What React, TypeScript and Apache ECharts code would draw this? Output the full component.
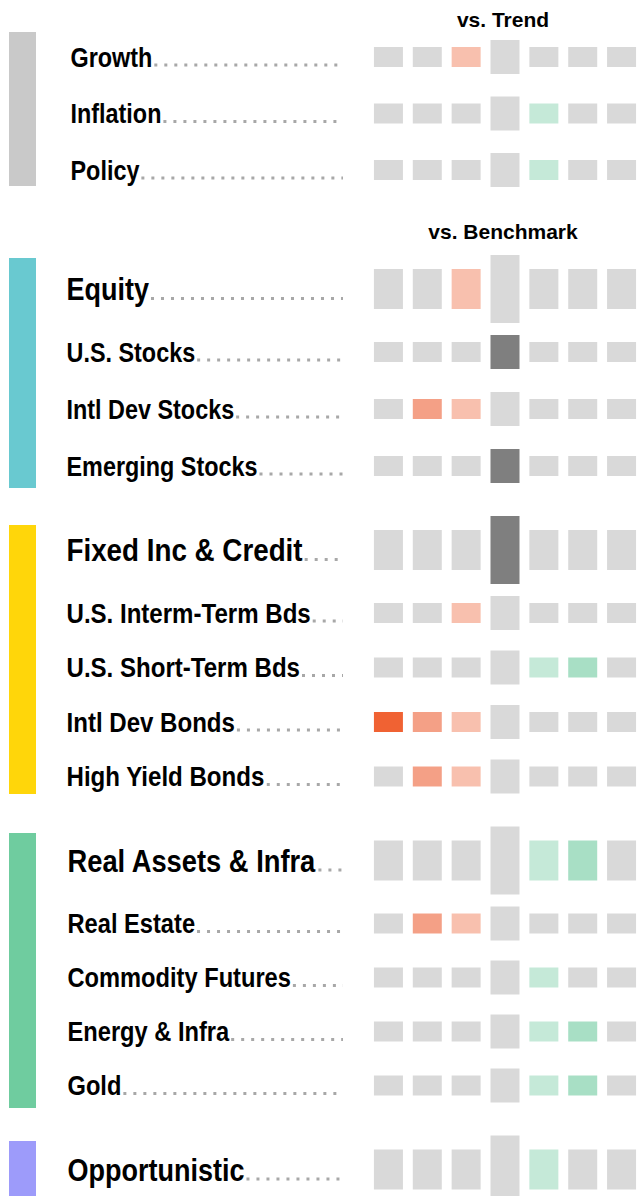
import React, { useEffect, useRef } from "react";
import * as echarts from "echarts";

// ---------- data ----------
const ratingSteps = ["-3", "-2", "-1", "0", "+1", "+2", "+3"];

const macroLabels = ["Growth", "Inflation", "Policy"];
const macroScores = [-1, 1, 1];

const equityLabels = ["Equity", "U.S. Stocks", "Intl Dev Stocks", "Emerging Stocks"];
const equityScores = [-1, 0, -2, 0];

const fixedLabels = [
  "Fixed Inc & Credit",
  "U.S. Interm-Term Bds",
  "U.S. Short-Term Bds",
  "Intl Dev Bonds",
  "High Yield Bonds",
];
const fixedScores = [0, -1, 2, -3, -2];

const realLabels = ["Real Assets & Infra", "Real Estate", "Commodity Futures", "Energy & Infra", "Gold"];
const realScores = [2, -2, 1, 2, 2];

const oppLabels = ["Opportunistic"];
const oppScores = [1];

const subtitleTrend = "vs. Trend";
const subtitleBenchmark = "vs. Benchmark";

// ---------- styles / layout ----------
const FONT = '"Liberation Sans", Arial, Helvetica, sans-serif';
const GRAY = "#d9d9d9";
const DARK = "#7f7f7f";
const NEG = ["#f8c0ae", "#f4a086", "#f06233"];
const POS = ["#c5e9d8", "#a8dfc5", "#6fcc9f"];

const sections = [
  { labels: macroLabels, scores: macroScores, header: false, color: "#c9c9c9", step: 56.5, labelX: 70.5, squeeze: 0.86, padTop: 25, padBottom: 16, subtitle: subtitleTrend },
  { labels: equityLabels, scores: equityScores, header: true, color: "#69c9d0", step: 57, labelX: 66.5, squeeze: 0.86, padTop: 31, padBottom: 22, subtitle: subtitleBenchmark },
  { labels: fixedLabels, scores: fixedScores, header: true, color: "#ffd60a", step: 54.5, labelX: 66.5, squeeze: 0.885, padTop: 25, padBottom: 17.5, subtitle: "" },
  { labels: realLabels, scores: realScores, header: true, color: "#6fcc9f", step: 54, labelX: 67.5, squeeze: 0.87, padTop: 27.5, padBottom: 22.5, subtitle: "" },
  { labels: oppLabels, scores: oppScores, header: true, color: "#9d9bfa", step: 54, labelX: 67.5, squeeze: 0.86, padTop: 28.5, padBottom: 30, subtitle: "" },
];

const FIRST_Y = 57;
const SECTION_GAP = 84;
const SUBTITLE_EXTRA = 35;
const HEADER_STEP = 63;
const SMALL_FS = 27.2;
const HEADER_FS = 31.4;
const DOTS_END = 343;

type Row = { name: string; score: number; header: boolean; y: number; x: number; fs: number; sq: number };

function buildLayout() {
  const rows: Row[] = [];
  const bars: { top: number; bottom: number; color: string }[] = [];
  const subs: { text: string; y: number }[] = [];
  let y = FIRST_Y;
  let last = 0;
  sections.forEach((s, si) => {
    if (si > 0) y = last + SECTION_GAP + (s.subtitle ? SUBTITLE_EXTRA : 0);
    const first = y;
    if (s.subtitle) subs.push({ text: s.subtitle, y: first - (s.header ? 58 : 38) });
    s.labels.forEach((name, ri) => {
      const hdr = s.header && ri === 0;
      rows.push({ name, score: s.scores[ri], header: hdr, y, x: s.labelX, fs: hdr ? HEADER_FS : SMALL_FS, sq: s.squeeze });
      last = y;
      y += hdr ? HEADER_STEP : s.step;
    });
    bars.push({ top: first - s.padTop, bottom: last + s.padBottom, color: s.color });
  });
  return { rows, bars, subs };
}

function cellColor(ci: number, score: number) {
  const off = ci - 3;
  if (off === 0) return score === 0 ? DARK : GRAY;
  if (off < 0 && score < 0 && off >= score) return NEG[-off - 1];
  if (off > 0 && score > 0 && off <= score) return POS[off - 1];
  return GRAY;
}

export default function App() {
  const ref = useRef<HTMLDivElement>(null);
  useEffect(() => {
    if (!ref.current) return;
    document.body.style.margin = "0";
    const chart = echarts.init(ref.current, undefined, { renderer: "svg" });
    const { rows, bars, subs } = buildLayout();

    const canvas = document.createElement("canvas");
    const ctx = canvas.getContext("2d")!;
    const widths = rows.map((r) => {
      ctx.font = `bold ${r.fs}px ${FONT}`;
      return ctx.measureText(r.name).width * r.sq;
    });

    const cellData: number[][] = [];
    rows.forEach((r) => {
      ratingSteps.forEach((_, ci) => cellData.push([ci, r.y, r.score, r.header ? 1 : 0]));
    });

    const option: any = {
      animation: false,
      grid: { left: 369, top: 0, width: 273, height: 1196 },
      xAxis: { type: "category", data: ratingSteps, show: false, boundaryGap: true },
      yAxis: { type: "value", inverse: true, min: 0, max: 1196, show: false },
      graphic: subs.map((s) => ({
        type: "text",
        x: 503,
        y: s.y,
        silent: true,
        style: {
          text: s.text,
          fill: "#000",
          fontSize: 21,
          fontWeight: "bold",
          fontFamily: FONT,
          align: "center",
          verticalAlign: "middle",
        },
      })),
      series: [
        {
          type: "custom",
          name: "sections",
          silent: true,
          clip: false,
          data: bars.map((b) => [3, b.top, b.bottom]),
          renderItem: (params: any, api: any) => {
            const y1 = api.coord([3, api.value(1)])[1];
            const y2 = api.coord([3, api.value(2)])[1];
            return {
              type: "rect",
              shape: { x: 9, y: y1, width: 27, height: y2 - y1 },
              style: { fill: bars[params.dataIndex].color },
            };
          },
        },
        {
          type: "custom",
          name: "labels",
          silent: true,
          clip: false,
          data: rows.map((r) => [3, r.y]),
          renderItem: (params: any, api: any) => {
            const r = rows[params.dataIndex];
            const cy = api.coord([3, api.value(1)])[1];
            const endText = r.x + widths[params.dataIndex];
            const dotY = cy + r.fs * 0.35 - 1.5;
            return {
              type: "group",
              children: [
                {
                  type: "line",
                  shape: { x1: endText + 2, y1: dotY, x2: DOTS_END, y2: dotY },
                  style: { stroke: "#a8a8a8", lineWidth: 3, lineDash: [3, 7] },
                },
                {
                  type: "text",
                  x: r.x,
                  y: cy,
                  scaleX: r.sq,
                  style: {
                    text: r.name,
                    fill: "#000",
                    fontSize: r.fs,
                    fontWeight: "bold",
                    fontFamily: FONT,
                    align: "left",
                    verticalAlign: "middle",
                  },
                },
              ],
            };
          },
        },
        {
          type: "custom",
          name: "ratings",
          silent: true,
          clip: false,
          data: cellData,
          renderItem: (params: any, api: any) => {
            const ci = api.value(0);
            const y = api.value(1);
            const score = api.value(2);
            const hdr = api.value(3) === 1;
            const [cx, cy] = api.coord([ci, y]);
            const w = 29;
            const h = ci === 3 ? (hdr ? 68 : 34) : hdr ? 40 : 20;
            return {
              type: "rect",
              shape: { x: cx - w / 2, y: cy - h / 2, width: w, height: h },
              style: { fill: cellColor(ci, score) },
            };
          },
        },
      ],
    };
    chart.setOption(option);
    return () => chart.dispose();
  }, []);

  return (
    <div
      ref={ref}
      style={{ position: "absolute", left: 0, top: 0, width: 641, height: 1196, background: "#fff" }}
    />
  );
}
